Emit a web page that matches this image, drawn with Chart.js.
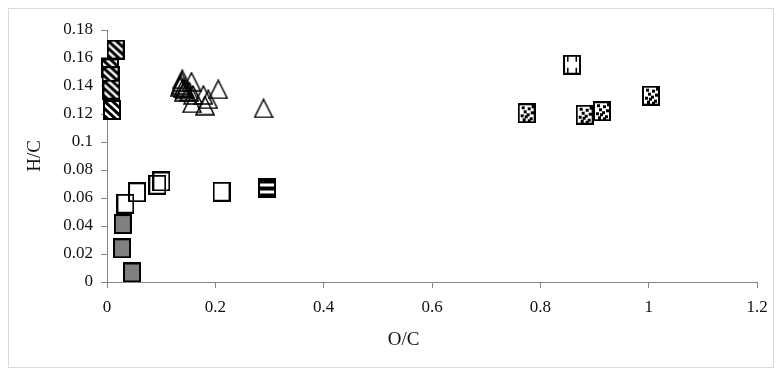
<!DOCTYPE html>
<html>
<head>
  <meta charset="UTF-8">
  <title>H/C vs O/C</title>
  <script src="https://cdn.jsdelivr.net/npm/chart.js"></script>
  <style>
    body { margin: 0; background: #fff; }
    #wrap { width: 781px; height: 376px; }
  </style>
</head>
<body>
  <div id="wrap"><canvas id="vk"></canvas></div>

  <script>
    // values
    const hatchX = [0.016, 0.0055, 0.0065, 0.0083, 0.0092];
    const hatchY = [0.166, 0.1526, 0.147, 0.1374, 0.1229];

    const triX = [0.139, 0.138, 0.135, 0.136, 0.14, 0.142, 0.144, 0.156, 0.152, 0.159, 0.178, 0.187, 0.157, 0.181, 0.2055, 0.289];
    const triY = [0.1448, 0.143, 0.1395, 0.141, 0.1385, 0.136, 0.138, 0.143, 0.136, 0.1336, 0.1336, 0.1305, 0.1276, 0.126, 0.1376, 0.124];

    const openX = [0.034, 0.0554, 0.0929, 0.1003, 0.2114];
    const openY = [0.0559, 0.0641, 0.0695, 0.0718, 0.0645];

    const greyX = [0.0292, 0.0277, 0.0462];
    const greyY = [0.0414, 0.0241, 0.0068];

    const stripeX = [0.2954];
    const stripeY = [0.0668];

    const dotX = [0.7748, 0.8818, 0.9138, 1.0043];
    const dotY = [0.1205, 0.1195, 0.122, 0.1331];

    const hX = [0.8585];
    const hY = [0.1552];

    const xTicks = ['0', '0.2', '0.4', '0.6', '0.8', '1', '1.2'];
    const yTicks = ['0', '0.02', '0.04', '0.06', '0.08', '0.1', '0.12', '0.14', '0.16', '0.18'];

    function pts(xs, ys) {
      return xs.map((x, i) => ({ x: x, y: ys[i] }));
    }

    // marker images
    const W = 18, H = 20;
    function box(paint) {
      const c = document.createElement('canvas');
      c.width = W; c.height = H;
      const g = c.getContext('2d');
      paint(g);
      g.strokeStyle = '#000';
      g.lineWidth = 2;
      g.strokeRect(1, 1, W - 2, H - 2);
      return c;
    }

    const hatchImg = box(g => {
      g.fillStyle = '#fff';
      g.fillRect(0, 0, W, H);
      g.save();
      g.beginPath();
      g.rect(0, 0, W, H);
      g.clip();
      g.strokeStyle = '#000';
      g.lineWidth = 3;
      for (let k = -24; k < 30; k += 8) {
        g.beginPath();
        g.moveTo(k, 0);
        g.lineTo(k + 22, H);
        g.stroke();
      }
      g.restore();
    });

    const greyImg = box(g => {
      g.fillStyle = '#808080';
      g.fillRect(0, 0, W, H);
    });

    const openImg = box(g => {});

    const stripeImg = box(g => {
      g.fillStyle = '#000';
      g.fillRect(0, 0, W, H);
      g.fillStyle = '#fff';
      g.fillRect(2, 5, W - 4, 3);
      g.fillRect(2, 12, W - 4, 3);
    });

    const dotImg = box(g => {
      g.fillStyle = '#fff';
      g.fillRect(0, 0, W, H);
      g.fillStyle = '#000';
      const d = [[4, 3], [10, 4], [13, 8], [6, 7], [3, 11], [9, 10], [12, 14], [5, 15], [10, 16], [14, 2], [7, 12]];
      d.forEach(p => g.fillRect(p[0], p[1], 3, 3));
    });

    const hImg = box(g => {
      g.fillStyle = '#fff';
      g.fillRect(0, 0, W, H);
      g.fillStyle = '#000';
      g.fillRect(4, 2, 1.5, 5);
      g.fillRect(12.5, 2, 1.5, 5);
      g.fillRect(4, 13, 1.5, 5);
      g.fillRect(12.5, 13, 1.5, 5);
    });

    const triImg = (function () {
      const c = document.createElement('canvas');
      c.width = 20; c.height = 20;
      const g = c.getContext('2d');
      g.strokeStyle = '#000';
      g.lineWidth = 1.5;
      g.lineJoin = 'miter';
      g.beginPath();
      g.moveTo(10, 1);
      g.lineTo(19, 19);
      g.lineTo(1, 19);
      g.closePath();
      g.stroke();
      return c;
    })();

    function series(label, xs, ys, img) {
      return {
        label: label,
        data: pts(xs, ys),
        pointStyle: img,
        pointRadius: 9,
        pointHoverRadius: 9,
        showLine: false,
        clip: false
      };
    }

    const frame = {
      id: 'frame',
      beforeDraw(chart) {
        const ctx = chart.ctx;
        ctx.save();
        ctx.fillStyle = '#fff';
        ctx.fillRect(0, 0, chart.width, chart.height);
        ctx.strokeStyle = '#d9d9d9';
        ctx.lineWidth = 1;
        ctx.strokeRect(8.5, 8.5, 765, 359);
        ctx.restore();
      }
    };

    const font = { family: 'Liberation Serif', size: 17 };
    const titleFont = { family: 'Liberation Serif', size: 19 };
    const axisGrey = '#868686';

    new Chart(document.getElementById('vk'), {
      type: 'scatter',
      data: {
        datasets: [
          series('hatched', hatchX, hatchY, hatchImg),
          series('triangle', triX, triY, triImg),
          series('open', openX, openY, openImg),
          series('grey', greyX, greyY, greyImg),
          series('stripe', stripeX, stripeY, stripeImg),
          series('dots', dotX, dotY, dotImg),
          series('H', hX, hY, hImg)
        ]
      },
      options: {
        responsive: true,
        maintainAspectRatio: false,
        animation: false,
        layout: { padding: { left: 0, top: 30, right: 24, bottom: 0 } },
        plugins: {
          legend: { display: false },
          tooltip: { enabled: false }
        },
        scales: {
          x: {
            type: 'linear',
            min: 0,
            max: 1.2,
            afterFit: s => { s.height = 94; },
            ticks: {
              stepSize: 0.2,
              padding: 9,
              color: '#111',
              font: font,
              maxRotation: 0,
              callback: (v, i) => xTicks[i]
            },
            grid: { drawOnChartArea: false, color: axisGrey, tickLength: 6 },
            border: { color: axisGrey, width: 1 },
            title: {
              display: true,
              text: 'O/C' + '\u00a0'.repeat(12),
              color: '#111',
              font: titleFont,
              padding: { top: 0, bottom: 25 }
            }
          },
          y: {
            type: 'linear',
            min: 0,
            max: 0.18,
            afterFit: s => { s.width = 107; },
            ticks: {
              stepSize: 0.02,
              padding: 8,
              color: '#111',
              font: font,
              callback: (v, i) => yTicks[i]
            },
            grid: { drawOnChartArea: false, color: axisGrey, tickLength: 6 },
            border: { color: axisGrey, width: 1 },
            title: {
              display: true,
              text: 'H/C',
              color: '#111',
              font: titleFont,
              padding: { top: 24, bottom: 0 }
            }
          }
        }
      },
      plugins: [frame]
    });
  </script>
</body>
</html>
